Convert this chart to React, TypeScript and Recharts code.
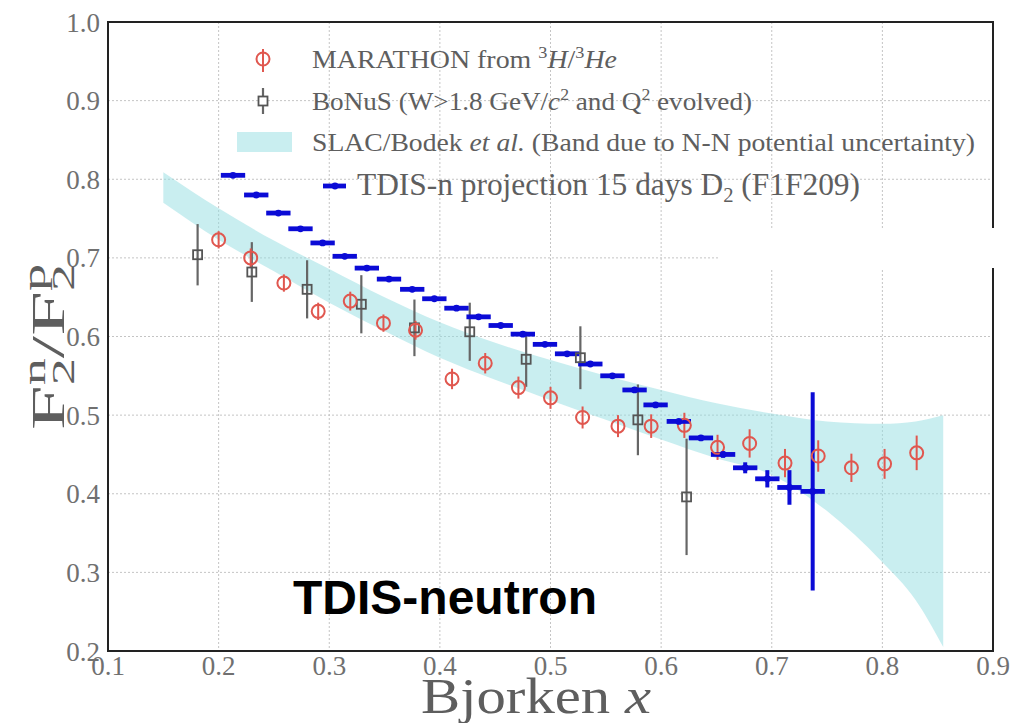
import React from "react";
import {
  ComposedChart,
  Area,
  Scatter,
  ErrorBar,
  XAxis,
  YAxis,
  CartesianGrid,
  ReferenceArea,
} from "recharts";

const xTicks = [0.1, 0.2, 0.3, 0.4, 0.5, 0.6, 0.7, 0.8, 0.9];
const yTicks = [0.2, 0.3, 0.4, 0.5, 0.6, 0.7, 0.8, 0.9, 1.0];

// SLAC/Bodek band
const bandX = [0.15, 0.2, 0.25, 0.3, 0.35, 0.4, 0.45, 0.5, 0.55, 0.6, 0.65, 0.7, 0.75, 0.8, 0.83, 0.855];
const bandLo = [0.77, 0.723, 0.683, 0.643, 0.607, 0.573, 0.545, 0.519, 0.494, 0.469, 0.445, 0.424, 0.378, 0.313, 0.265, 0.205];
const bandHi = [0.809, 0.763, 0.722, 0.686, 0.65, 0.618, 0.592, 0.57, 0.55, 0.532, 0.515, 0.502, 0.492, 0.489, 0.492, 0.5];

// MARATHON
const marathonX = [0.2, 0.229, 0.259, 0.29, 0.319, 0.349, 0.378, 0.411, 0.441, 0.471, 0.5, 0.529, 0.561, 0.591, 0.621, 0.651, 0.68, 0.712, 0.742, 0.772, 0.802, 0.831];
const marathonY = [0.723, 0.7, 0.668, 0.632, 0.645, 0.617, 0.608, 0.546, 0.566, 0.535, 0.522, 0.497, 0.486, 0.486, 0.487, 0.459, 0.464, 0.439, 0.448, 0.433, 0.438, 0.452];
const marathonErr = [0.011, 0.012, 0.011, 0.011, 0.012, 0.011, 0.012, 0.013, 0.013, 0.014, 0.014, 0.014, 0.014, 0.015, 0.016, 0.016, 0.018, 0.018, 0.02, 0.018, 0.019, 0.022];

// BoNuS
const bonusX = [0.181, 0.23, 0.28, 0.329, 0.377, 0.427, 0.478, 0.527, 0.579, 0.623];
const bonusY = [0.704, 0.682, 0.66, 0.641, 0.611, 0.606, 0.571, 0.573, 0.494, 0.396];
const bonusErr = [0.039, 0.038, 0.037, 0.037, 0.036, 0.037, 0.035, 0.04, 0.045, 0.074];

// TDIS-n projection
const tdisX = [0.213, 0.234, 0.254, 0.274, 0.294, 0.314, 0.334, 0.354, 0.375, 0.395, 0.415, 0.435, 0.455, 0.475, 0.495, 0.515, 0.536, 0.556, 0.576, 0.595, 0.616, 0.636, 0.656, 0.676, 0.696, 0.716, 0.737];
const tdisY = [0.805, 0.78, 0.757, 0.737, 0.719, 0.702, 0.687, 0.673, 0.66, 0.648, 0.636, 0.625, 0.614, 0.603, 0.59, 0.578, 0.565, 0.55, 0.532, 0.513, 0.492, 0.471, 0.45, 0.433, 0.419, 0.408, 0.403];
const tdisYErr = [0.002, 0.002, 0.002, 0.002, 0.002, 0.002, 0.002, 0.002, 0.002, 0.002, 0.002, 0.002, 0.002, 0.002, 0.002, 0.002, 0.002, 0.002, 0.002, 0.002, 0.003, 0.003, 0.004, 0.007, 0.011, 0.022, 0.126];
const tdisXErr = 0.011;

const band = bandX.map((x, i) => ({ x, range: [bandLo[i], bandHi[i]] }));
const marathon = marathonX.map((x, i) => ({ x, y: marathonY[i], err: marathonErr[i] }));
const bonus = bonusX.map((x, i) => ({ x, y: bonusY[i], err: bonusErr[i] }));
const tdis = tdisX.map((x, i) => ({ x, y: tdisY[i], xErr: tdisXErr, yErr: tdisYErr[i] }));

const RED = "#e0574f";
const GREY = "#555";
const BLUE = "#0b0bd6";
const BAND = "#93dde2";
const SERIF = "'Liberation Serif', 'Times New Roman', serif";
const TXT = "#5e5e5e";

const RedCircle = (p: any) => (
  <circle cx={p.cx} cy={p.cy} r={6.5} fill="none" stroke={RED} strokeWidth={2} />
);
const GreySquare = (p: any) => (
  <rect x={p.cx - 4.5} y={p.cy - 4.5} width={9} height={9} fill="none" stroke={GREY} strokeWidth={1.8} />
);
const BlueDot = (p: any) => <circle cx={p.cx} cy={p.cy} r={3.4} fill={BLUE} />;

const tickStyle = { fill: "#707070", fontSize: 27, fontFamily: SERIF };

export default function App() {
  return (
    <div style={{ position: "absolute", left: 0, top: 0, width: 1020, height: 723, background: "#fff" }}>
      <ComposedChart width={1020} height={723} data={band} margin={{ top: 22, right: 27, bottom: 0, left: 0 }}>
        <CartesianGrid stroke="#c4c4c4" strokeDasharray="2 2" />
        <XAxis
          type="number"
          dataKey="x"
          domain={[0.1, 0.9]}
          ticks={xTicks}
          allowDataOverflow
          height={72}
          tickLine={false}
          axisLine={false}
          tickSize={3}
          tick={tickStyle}
          tickFormatter={(v: number) => v.toFixed(1)}
        />
        <YAxis
          type="number"
          domain={[0.2, 1.0]}
          ticks={yTicks}
          allowDataOverflow
          width={108}
          tickLine={false}
          axisLine={false}
          tick={tickStyle}
          tickFormatter={(v: number) => v.toFixed(1)}
        />
        <Area
          dataKey="range"
          type="monotone"
          fill={BAND}
          fillOpacity={0.5}
          stroke="none"
          isAnimationActive={false}
        />
        <Scatter data={bonus} dataKey="y" shape={GreySquare} isAnimationActive={false}>
          <ErrorBar dataKey="err" direction="y" width={0} stroke="#666" strokeWidth={2.2} />
        </Scatter>
        <Scatter data={marathon} dataKey="y" shape={RedCircle} isAnimationActive={false}>
          <ErrorBar dataKey="err" direction="y" width={0} stroke={RED} strokeWidth={2} />
        </Scatter>
        <Scatter data={tdis} dataKey="y" shape={BlueDot} isAnimationActive={false}>
          <ErrorBar dataKey="xErr" direction="x" width={0} stroke={BLUE} strokeWidth={4.8} />
          <ErrorBar dataKey="yErr" direction="y" width={0} stroke={BLUE} strokeWidth={4} />
        </Scatter>
        <ReferenceArea x1={0.1} x2={0.9} y1={0.2} y2={1.0} fill="none" stroke="#222" strokeWidth={2} />
      </ComposedChart>

      <svg width={1020} height={723} style={{ position: "absolute", left: 0, top: 0, pointerEvents: "none" }}>
        <rect x={720} y={228} width={300} height={40} fill="#fff" />

        {/* legend */}
        <line x1={263} y1={49} x2={263} y2={72} stroke={RED} strokeWidth={2} />
        <circle cx={263} cy={59} r={6.5} fill="none" stroke={RED} strokeWidth={2} />
        <line x1={263} y1={88} x2={263} y2={114} stroke="#666" strokeWidth={2.2} />
        <rect x={258.5} y={96.5} width={9} height={9} fill="#fff" stroke={GREY} strokeWidth={1.8} />
        <rect x={237} y={132} width={55} height={20} fill={BAND} fillOpacity={0.5} />
        <line x1={323} y1={186} x2={346} y2={186} stroke={BLUE} strokeWidth={4.8} />
        <circle cx={335} cy={186} r={3.4} fill={BLUE} />

        <g fontFamily={SERIF} fill={TXT}>
          <text x={312} y={68} fontSize={26} textLength={305} lengthAdjust="spacingAndGlyphs">
            MARATHON from <tspan dy={-10} fontSize={17}>3</tspan>
            <tspan dy={10} fontStyle="italic">H</tspan>/<tspan dy={-10} fontSize={17}>3</tspan>
            <tspan dy={10} fontStyle="italic">He</tspan>
          </text>
          <text x={312} y={110} fontSize={26} textLength={440} lengthAdjust="spacingAndGlyphs">
            BoNuS (W&gt;1.8 GeV/<tspan fontStyle="italic">c</tspan>
            <tspan dy={-10} fontSize={17}>2</tspan>
            <tspan dy={10}> and Q</tspan>
            <tspan dy={-10} fontSize={17}>2</tspan>
            <tspan dy={10}> evolved)</tspan>
          </text>
          <text x={312} y={151} fontSize={26} textLength={663} lengthAdjust="spacingAndGlyphs">
            SLAC/Bodek <tspan fontStyle="italic">et al.</tspan> (Band due to N-N potential uncertainty)
          </text>
          <text x={357} y={195} fontSize={32} textLength={503} lengthAdjust="spacingAndGlyphs">
            TDIS-n projection 15 days D<tspan dy={7} fontSize={21}>2</tspan>
            <tspan dy={-7}> (F1F209)</tspan>
          </text>
        </g>

        <text x={293} y={614} fontFamily="'Liberation Sans', Arial, sans-serif" fontWeight="bold" fontSize={48} fill="#000">
          TDIS-neutron
        </text>

        {/* axis titles */}
        <text x={421} y={713} fontFamily={SERIF} fontSize={50} fill={TXT} textLength={230} lengthAdjust="spacingAndGlyphs">
          Bjorken <tspan fontStyle="italic">x</tspan>
        </text>
        <g transform="translate(64,347) rotate(-90) scale(1.75,1)">
          <text x={0} y={0} textAnchor="middle" fontFamily={SERIF} fontSize={46} fill={TXT}>
            F<tspan dy={10} fontSize={31}>2</tspan>
            <tspan dx={-15.5} dy={-29} fontSize={31}>n</tspan>
            <tspan dy={19}>/F</tspan>
            <tspan dy={10} fontSize={31}>2</tspan>
            <tspan dx={-15.5} dy={-29} fontSize={31}>p</tspan>
          </text>
        </g>
      </svg>
    </div>
  );
}
